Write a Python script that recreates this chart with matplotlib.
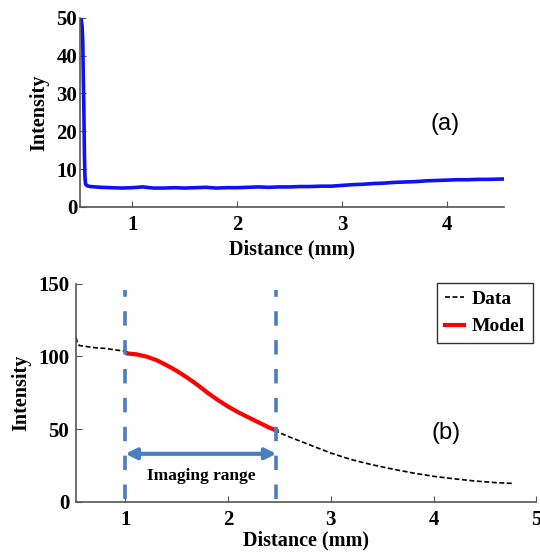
import matplotlib.pyplot as plt

plt.rcParams['font.family'] = 'Liberation Serif'
plt.rcParams['font.weight'] = 'bold'

# panel (a): raw intensity profile
dist_a = [0.512, 0.52, 0.527, 0.533, 0.538, 0.543, 0.548, 0.553, 0.56, 0.57, 0.6, 0.65, 0.7,
          0.8, 0.9, 1.0, 1.1, 1.2, 1.3, 1.4, 1.5, 1.6, 1.7, 1.8, 1.9, 2.0, 2.1, 2.2,
          2.3, 2.4, 2.5, 2.6, 2.7, 2.8, 2.9, 3.0, 3.1, 3.2, 3.3, 3.4, 3.5, 3.6, 3.7,
          3.8, 3.9, 4.0, 4.1, 4.2, 4.3, 4.4, 4.55]
int_a = [49.5, 48, 44, 33, 25, 14, 8, 6.2, 5.8, 5.6, 5.4, 5.3, 5.2,
         5.1, 5.0, 5.1, 5.3, 5.0, 5.0, 5.1, 5.0, 5.1, 5.2, 5.0, 5.1, 5.1, 5.2, 5.3,
         5.2, 5.3, 5.3, 5.4, 5.4, 5.5, 5.5, 5.7, 5.9, 6.0, 6.2, 6.3, 6.5, 6.6, 6.7,
         6.9, 7.0, 7.1, 7.2, 7.2, 7.3, 7.3, 7.4]

# panel (b): measured data and model fit
dist_data = [0.52, 0.53, 0.55, 0.6, 0.7, 0.8, 0.9, 1.0, 1.1, 1.2, 1.3, 1.4, 1.5, 1.6,
             1.7, 1.8, 1.9, 2.0, 2.1, 2.2, 2.3, 2.4, 2.5, 2.6, 2.8, 3.0, 3.2, 3.4,
             3.6, 3.8, 4.0, 4.2, 4.4, 4.6, 4.78]
int_data = [113, 110, 107.5, 107, 106, 105.5, 104.5, 103.5, 101.5, 100, 97.5, 94, 90, 85.5,
            80.5, 75, 70, 65.5, 61.5, 58, 54.5, 51, 47.5, 44.5, 39, 33.5, 29, 25.5,
            22.5, 19.8, 17.5, 15.8, 14.3, 13.2, 12.6]
dist_model = [1.02, 1.1, 1.2, 1.3, 1.4, 1.5, 1.6, 1.7, 1.8, 1.9, 2.0, 2.1, 2.2, 2.3, 2.4, 2.47]
int_model = [102, 101.5, 100, 97.5, 94, 90, 85.5, 80.5, 75, 70, 65.5, 61.5, 58, 54.5, 51, 49]

range_start = 1.0
range_end = 2.47

fig = plt.figure(figsize=(5.4, 5.52), dpi=100)

spine_col = '#555555'

def style_axes(ax, ypad):
    for s in ['top', 'right']:
        ax.spines[s].set_visible(False)
    for s in ['left', 'bottom']:
        ax.spines[s].set_color(spine_col)
        ax.spines[s].set_linewidth(1.2)
    ax.tick_params(direction='in', length=4, color=spine_col, labelsize=15)
    ax.tick_params(axis='x', pad=6)
    ax.tick_params(axis='y', pad=ypad)
    for lab in ax.get_xticklabels() + ax.get_yticklabels():
        lab.set_fontweight('bold')

ax1 = fig.add_axes([0.148, 0.625, 0.786, 0.343])
ax1.plot(dist_a, int_a, color='#1010ff', lw=2.6)
ax1.set_xlim(0.5, 4.55)
ax1.set_ylim(0, 50)
ax1.set_xticks([1, 2, 3, 4])
ax1.set_yticks([0, 10, 20, 30, 40, 50])
style_axes(ax1, 2)
ax1.set_xlabel('Distance (mm)', fontsize=14.5, fontweight='bold', labelpad=3)
ax1.set_ylabel('Intensity', fontsize=14.5, fontweight='bold', labelpad=5)
ax1.text(3.98, 22, '(a)', family='Liberation Sans', fontweight='normal', fontsize=17,
         ha='center', va='center')

ax2 = fig.add_axes([0.141, 0.091, 0.852, 0.395])
ax2.plot(dist_data, int_data, color='black', lw=1.2, ls=(0, (3, 1.5)), label='Data')
ax2.plot(dist_model, int_model, color='red', lw=3, label='Model')
for xv in [range_start, range_end]:
    ax2.plot([xv, xv], [2, 146], color='#4a7ebf', lw=2.6, ls=(0, (4, 4)))
ax2.annotate('', xy=(range_start, 33), xytext=(range_end, 33),
             arrowprops=dict(arrowstyle='<|-|>', color='#4a7ebf', lw=3,
                             mutation_scale=16, shrinkA=0, shrinkB=0))
ax2.text((range_start + range_end) / 2, 18, 'Imaging range', fontsize=12.5,
         fontweight='bold', ha='center', va='center')
ax2.set_xlim(0.52, 5)
ax2.set_ylim(0, 150)
ax2.set_xticks([1, 2, 3, 4, 5])
ax2.set_yticks([0, 50, 100, 150])
style_axes(ax2, 5)
ax2.set_xlabel('Distance (mm)', fontsize=14.5, fontweight='bold', labelpad=0)
ax2.set_ylabel('Intensity', fontsize=14.5, fontweight='bold', labelpad=5)
ax2.text(4.12, 47, '(b)', family='Liberation Sans', fontweight='normal', fontsize=17,
         ha='center', va='center')
leg = ax2.legend(loc='upper right', bbox_to_anchor=(0.993, 1.005),
                 prop={'weight': 'bold', 'size': 14}, fancybox=False, edgecolor='black',
                 handlelength=1.0, handletextpad=0.4, borderpad=0.4, labelspacing=0.5,
                 borderaxespad=0.0)
leg.get_frame().set_linewidth(1.0)

fig.savefig('out.png', dpi=100)
